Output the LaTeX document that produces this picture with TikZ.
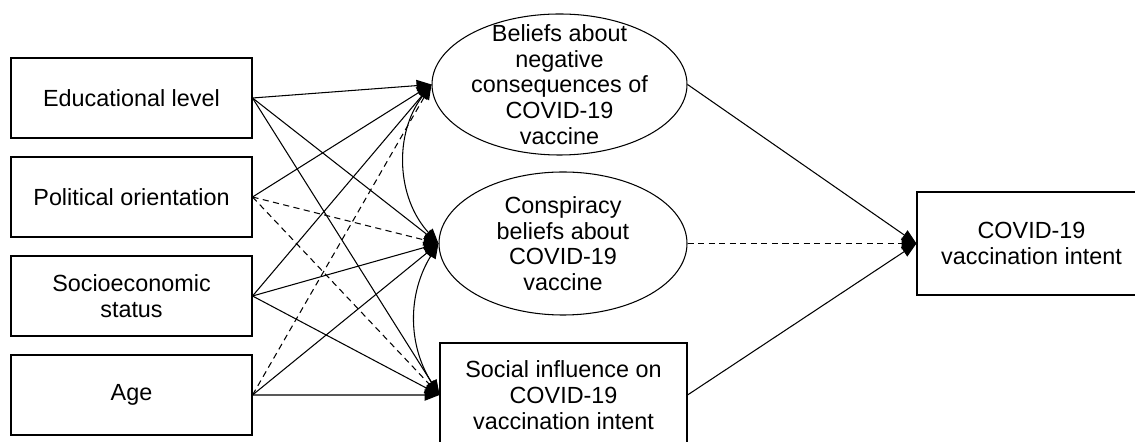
\documentclass[tikz,border=0pt]{standalone}
\usepackage{fontspec}
\setmainfont{Liberation Sans}
\usetikzlibrary{shapes.geometric,arrows.meta}

\begin{document}
\begin{tikzpicture}[
  every node/.style={font=\fontsize{13.3}{14.6}\selectfont, align=center},
  box/.style={draw, line width=0.6pt, minimum width=4.82cm, minimum height=1.6cm},
  oval/.style={draw, ellipse, line width=0.6pt, inner sep=0pt},
  >={Triangle[length=8.5pt,width=6.5pt]},
  arr/.style={->, line width=0.6pt},
  dsh/.style={arr, dash pattern=on 3.5pt off 2.5pt},
  node distance=1.98cm]
\clip (0,0) rectangle (22.7,8.84);
\node [box] (e) at (2.63,6.88) {Educational level};
\node [box, below of=e] (p) {Political orientation};
\node [box, below of=p] (s) {Socioeconomic\\status};
\node [box, below of=s] (a) {Age};
\node [oval, minimum width=5.1cm, minimum height=2.82cm] (n) at (11.19,7.15) {};
\node (nt) at (n) {Beliefs about\\negative\\consequences of\\COVID-19\\vaccine};
\node [oval, minimum width=4.96cm, minimum height=2.86cm] (c) at (11.26,3.97) {};
\node (ct) at (c) {Conspiracy\\beliefs about\\COVID-19\\vaccine};
\node [box, minimum width=4.94cm, minimum height=2.08cm] (i) at (11.27,0.94) {Social influence on\\COVID-19\\vaccination intent};
\node [box, minimum width=4.58cm, minimum height=2.06cm] (v) at (20.63,3.97) {COVID-19\\vaccination intent};
\draw [arr] (e.east) -- (n.west);
\draw [arr] (e.east) -- (c.west);
\draw [arr] (e.east) -- (i.west);
\draw [arr] (p.east) -- (n.west);
\draw [dsh] (p.east) -- (c.west);
\draw [dsh] (p.east) -- (i.west);
\draw [arr] (s.east) -- (n.west);
\draw [arr] (s.east) -- (c.west);
\draw [arr] (s.east) -- (i.west);
\draw [dsh] (a.east) -- (n.west);
\draw [arr] (a.east) -- (c.west);
\draw [arr] (a.east) -- (i.west);
\draw [<->, line width=0.6pt] (n.west) to [bend right=40] (c.west);
\draw [<->, line width=0.6pt] (c.west) to [bend right=32] (i.west);
\draw [arr] (n.east) -- (v.west);
\draw [dsh] (c.east) -- (v.west);
\draw [arr] (i.east) -- (v.west);
\end{tikzpicture}
\end{document}
